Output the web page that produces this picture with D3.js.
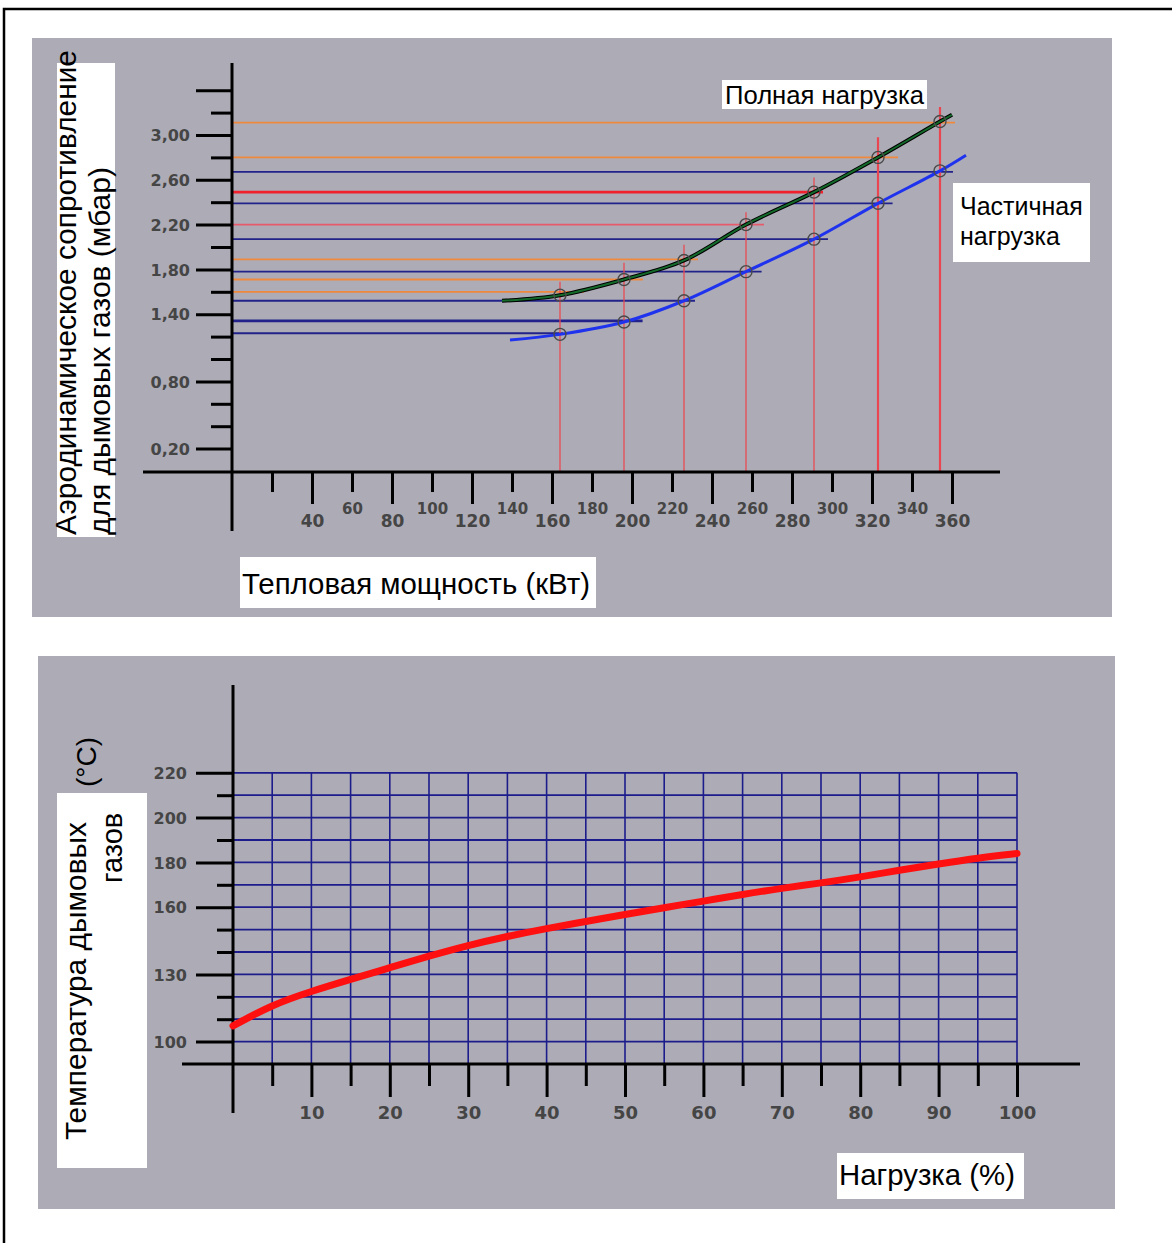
<!DOCTYPE html>
<html lang="ru">
<head>
    <meta charset="UTF-8">
    <script src="https://cdn.jsdelivr.net/npm/d3@7"></script>
    <style>
        body { margin: 0; background: #fff; }
        svg { display: block; }
        .panel { fill: #adacb6; }
        .axis-line { stroke: #000; stroke-width: 3; }
        .tick line { stroke: #000; stroke-width: 3; }
        .tick text { font-family: "DejaVu Sans", sans-serif; font-weight: bold; fill: #454545; }
        .box { fill: #fff; }
        .title { font-family: "Liberation Sans", Arial, sans-serif; fill: #000; }
    </style>
</head>
<body>

<svg width="1172" height="1243"></svg>

<script>
    // top chart: flue gas resistance (mbar) against heat output (kW)
    var powerTicks = [20,40,60,80,100,120,140,160,180,200,220,240,260,280,300,320,340,360];
    var powerTickLabels = ["","40","60","80","100","120","140","160","180","200","220","240","260","280","300","320","340","360"];
    var resTicks = [0.2,0.4,0.6,0.8,1.0,1.2,1.4,1.6,1.8,2.0,2.2,2.4,2.6,2.8,3.0,3.2,3.4];
    var resTickLabels = ["0,20","","","0,80","","","1,40","","1,80","","2,20","","2,60","","3,00","",""];
    var resMajor = [0.2,0.8,1.4,1.8,2.2,2.6,3.0,3.4];

    var fullPower = [135,164,196,226,257,291,323,354,360];
    var fullRes   = [1.52,1.57,1.71,1.88,2.20,2.49,2.80,3.12,3.18];
    var partPower = [139,164,196,226,257,291,323,354,367];
    var partRes   = [1.17,1.22,1.33,1.52,1.78,2.07,2.39,2.68,2.82];

    // red drop lines from the marked points
    var markPower = [164,196,226,257,291,323,354];
    var markTop   = [1.69,1.86,2.02,2.31,2.62,2.98,3.25];

    // horizontal read-off lines: level (mbar), end (kW), kind
    var refRes  = [3.11,2.80,2.67,2.49,2.39,2.20,2.07,1.89,1.78,1.71,1.60,1.52,1.34,1.23];
    var refEnd  = [361.5,333,360.5,295.5,330.3,266,298,233,264.8,205.5,176,231.5,205.3,165.5];
    var refKind = ["full","full","part","main","part","mid","part","full","part","full","full","part","part","part"];

    // bottom chart: flue gas temperature against load
    var loadPct   = [0,5,10,15,20,25,30,35,40,45,50,55,60,65,70,75,80,85,90,95,100];
    var flueTemp  = [107,116.5,122.5,127.8,133,138.2,143,147,150.5,153.6,156.8,159.8,162.7,165.7,168.5,170.8,173.5,176.5,179.3,182,184];
    var loadTicks = [5,10,15,20,25,30,35,40,45,50,55,60,65,70,75,80,85,90,95,100];
    var tempTicks = [100,110,120,130,140,150,160,170,180,190,200,210,220];
    var tempTickLabels = ["100","","","130","","","160","","180","","200","","220"];

    var svg = d3.select("svg");

    var refColor = {full: "#f0893e", part: "#22228a", main: "#f0202c", mid: "#e65a6c"};

    // outer frame (cut off at right and bottom)
    svg.append("rect").attr("x", 4).attr("y", 9).attr("width", 1200).attr("height", 1300)
        .attr("fill", "none").attr("stroke", "#000").attr("stroke-width", 2.5);

    // ================= top panel =================
    svg.append("rect").attr("class", "panel").attr("x", 32).attr("y", 38).attr("width", 1080).attr("height", 579);

    var x1 = d3.scaleLinear().domain([0, 360]).range([232, 952]);
    var y1 = d3.scaleLinear().domain([0, 3.4]).range([471, 90.2]);

    var g1 = svg.append("g");

    refRes.forEach(function(v, i) {
        g1.append("line")
            .attr("x1", x1(0)).attr("x2", x1(refEnd[i]))
            .attr("y1", y1(v)).attr("y2", y1(v))
            .attr("stroke", refColor[refKind[i]])
            .attr("stroke-width", refKind[i] === "main" || i === 12 ? 2.6 : 1.8);
    });

    markPower.forEach(function(p, i) {
        g1.append("line")
            .attr("x1", x1(p)).attr("x2", x1(p))
            .attr("y1", y1(0)).attr("y2", y1(markTop[i]))
            .attr("stroke", "#ea4652")
            .attr("stroke-opacity", i > 4 ? 1 : 0.85)
            .attr("stroke-width", i > 4 ? 2.2 : 1.5);
    });

    var line1 = d3.line().curve(d3.curveCatmullRom.alpha(0.5))
        .x(function(d) { return x1(d[0]); })
        .y(function(d) { return y1(d[1]); });

    var fullPts = d3.zip(fullPower, fullRes);
    var partPts = d3.zip(partPower, partRes);

    g1.append("path").datum(fullPts).attr("d", line1)
        .attr("fill", "none").attr("stroke", "#000").attr("stroke-width", 4);
    g1.append("path").datum(fullPts).attr("d", line1)
        .attr("fill", "none").attr("stroke", "#136a2a").attr("stroke-width", 2);
    g1.append("path").datum(partPts).attr("d", line1)
        .attr("fill", "none").attr("stroke", "#1f32ee").attr("stroke-width", 3);

    fullPts.slice(1, 8).concat(partPts.slice(1, 8)).forEach(function(d) {
        g1.append("circle")
            .attr("cx", x1(d[0])).attr("cy", y1(d[1])).attr("r", 6)
            .attr("fill", "none").attr("stroke", "#4a4a4a").attr("stroke-width", 1.4);
    });

    // axes
    svg.append("line").attr("class", "axis-line").attr("x1", 232).attr("x2", 232).attr("y1", 63).attr("y2", 531);
    svg.append("line").attr("class", "axis-line").attr("x1", 143).attr("x2", 1000).attr("y1", 472).attr("y2", 472);

    var gx1 = svg.append("g").attr("transform", "translate(0,472)")
        .call(d3.axisBottom(x1).tickValues(powerTicks).tickSize(32).tickSizeOuter(0)
            .tickFormat(function(d, i) { return powerTickLabels[i]; }));
    gx1.select(".domain").remove();
    gx1.selectAll(".tick").each(function(d, i) {
        var minor = i % 2 === 0;
        d3.select(this).select("line").attr("y2", minor ? 20 : 32);
        d3.select(this).select("text")
            .attr("y", minor ? 42 : 55).attr("dy", 0)
            .style("font-size", minor ? "15px" : "17px");
    });

    var gy1 = svg.append("g").attr("transform", "translate(232,0)")
        .call(d3.axisLeft(y1).tickValues(resTicks).tickSize(36).tickSizeOuter(0)
            .tickFormat(function(d, i) { return resTickLabels[i]; }));
    gy1.select(".domain").remove();
    gy1.selectAll(".tick").each(function(d) {
        var major = resMajor.some(function(m) { return Math.abs(m - d) < 1e-6; });
        d3.select(this).select("line").attr("x2", major ? -36 : -21);
        d3.select(this).select("text").attr("x", -42).attr("dy", "0.36em").style("font-size", "16px");
    });

    // labels
    svg.append("rect").attr("class", "box").attr("x", 57).attr("y", 63).attr("width", 58).attr("height", 474);
    svg.append("text").attr("class", "title").attr("transform", "translate(76,535) rotate(-90)")
        .style("font-size", "29px").attr("textLength", 485).attr("lengthAdjust", "spacingAndGlyphs")
        .text("Аэродинамическое сопротивление");
    svg.append("text").attr("class", "title").attr("transform", "translate(110,535) rotate(-90)")
        .style("font-size", "29px").attr("textLength", 368).attr("lengthAdjust", "spacingAndGlyphs")
        .text("для дымовых газов (мбар)");

    svg.append("rect").attr("class", "box").attr("x", 240).attr("y", 557).attr("width", 356).attr("height", 51);
    svg.append("text").attr("class", "title").attr("x", 242).attr("y", 594)
        .style("font-size", "29px").attr("textLength", 348).attr("lengthAdjust", "spacingAndGlyphs")
        .text("Тепловая мощность (кВт)");

    svg.append("rect").attr("class", "box").attr("x", 722).attr("y", 80).attr("width", 205).attr("height", 29);
    svg.append("text").attr("class", "title").attr("x", 725).attr("y", 104)
        .style("font-size", "25px").attr("textLength", 199).attr("lengthAdjust", "spacingAndGlyphs")
        .text("Полная нагрузка");

    svg.append("rect").attr("class", "box").attr("x", 953).attr("y", 183).attr("width", 137).attr("height", 79);
    svg.append("text").attr("class", "title").attr("x", 960).attr("y", 215)
        .style("font-size", "25px").text("Частичная");
    svg.append("text").attr("class", "title").attr("x", 960).attr("y", 245)
        .style("font-size", "25px").text("нагрузка");

    // ================= bottom panel =================
    svg.append("rect").attr("class", "panel").attr("x", 38).attr("y", 656).attr("width", 1077).attr("height", 553);

    var x2 = d3.scaleLinear().domain([0, 100]).range([233, 1017]);
    var y2 = d3.scaleLinear().domain([90, 220]).range([1064, 772.8]);

    var g2 = svg.append("g");
    loadTicks.forEach(function(p) {
        g2.append("line").attr("x1", x2(p)).attr("x2", x2(p)).attr("y1", y2(90)).attr("y2", y2(220))
            .attr("stroke", "#1c1c8c").attr("stroke-width", 1.6);
    });
    tempTicks.forEach(function(t) {
        g2.append("line").attr("x1", x2(0)).attr("x2", x2(100)).attr("y1", y2(t)).attr("y2", y2(t))
            .attr("stroke", "#1c1c8c").attr("stroke-width", 1.8);
    });

    svg.append("line").attr("class", "axis-line").attr("x1", 233).attr("x2", 233).attr("y1", 685).attr("y2", 1113);
    svg.append("line").attr("class", "axis-line").attr("x1", 182).attr("x2", 1080).attr("y1", 1064).attr("y2", 1064);

    var gx2 = svg.append("g").attr("transform", "translate(0,1064)")
        .call(d3.axisBottom(x2).tickValues(loadTicks).tickSize(33).tickSizeOuter(0)
            .tickFormat(function(d) { return d % 10 === 0 ? d : ""; }));
    gx2.select(".domain").remove();
    gx2.selectAll(".tick").each(function(d) {
        d3.select(this).select("line").attr("y2", d % 10 === 0 ? 33 : 22);
        d3.select(this).select("text").attr("y", 55).attr("dy", 0).style("font-size", "18px");
    });

    var gy2 = svg.append("g").attr("transform", "translate(233,0)")
        .call(d3.axisLeft(y2).tickValues(tempTicks).tickSize(37).tickSizeOuter(0)
            .tickFormat(function(d, i) { return tempTickLabels[i]; }));
    gy2.select(".domain").remove();
    gy2.selectAll(".tick").each(function(d, i) {
        d3.select(this).select("line").attr("x2", tempTickLabels[i] ? -37 : -16);
        d3.select(this).select("text").attr("x", -46).attr("dy", "0.36em").style("font-size", "16px");
    });

    var line2 = d3.line().curve(d3.curveBasis)
        .x(function(d) { return x2(d[0]); })
        .y(function(d) { return y2(d[1]); });
    svg.append("path").datum(d3.zip(loadPct, flueTemp)).attr("d", line2)
        .attr("fill", "none").attr("stroke", "#ff1010").attr("stroke-width", 7).attr("stroke-linecap", "round");

    // labels
    svg.append("rect").attr("class", "box").attr("x", 57).attr("y", 793).attr("width", 90).attr("height", 375);
    svg.append("text").attr("class", "title").attr("transform", "translate(86,1140) rotate(-90)")
        .style("font-size", "29px").attr("textLength", 318).attr("lengthAdjust", "spacingAndGlyphs")
        .text("Температура дымовых");
    svg.append("text").attr("class", "title").attr("transform", "translate(122,883) rotate(-90)")
        .style("font-size", "29px").text("газов");
    svg.append("text").attr("class", "title").attr("transform", "translate(96,787) rotate(-90)")
        .style("font-size", "28px").text("(°C)");

    svg.append("rect").attr("class", "box").attr("x", 837).attr("y", 1153).attr("width", 187).attr("height", 46);
    svg.append("text").attr("class", "title").attr("x", 839).attr("y", 1185)
        .style("font-size", "29px").attr("textLength", 176).attr("lengthAdjust", "spacingAndGlyphs")
        .text("Нагрузка (%)");
</script>

</body>
</html>
